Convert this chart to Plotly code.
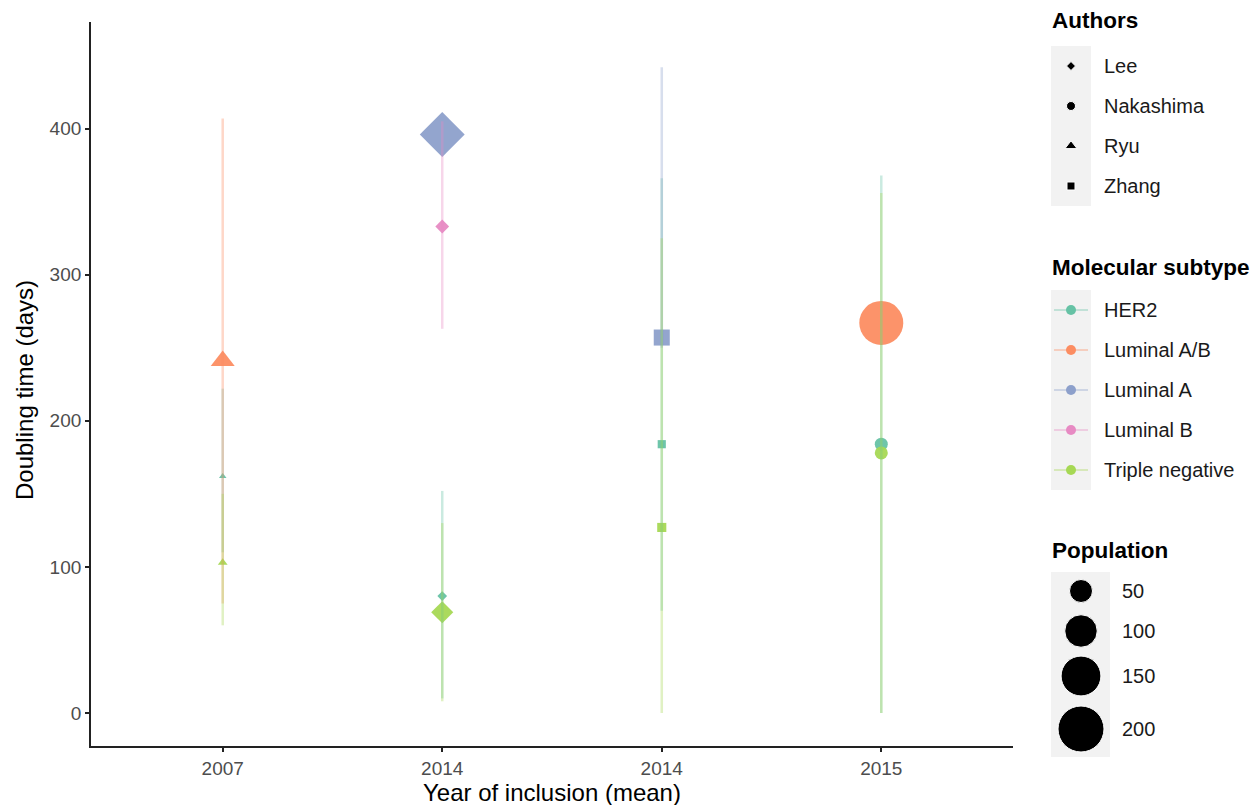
import math
import plotly.graph_objects as go

# ---------------- data ----------------
study_order = ["Ryu", "Lee", "Zhang", "Nakashima"]          # order along x axis
year_labels = ["2007", "2014", "2014", "2015"]              # x tick labels
authors_legend = ["Lee", "Nakashima", "Ryu", "Zhang"]
subtypes = ["HER2", "Luminal A/B", "Luminal A", "Luminal B", "Triple negative"]

author = ["Ryu", "Ryu", "Ryu",
          "Lee", "Lee", "Lee", "Lee",
          "Zhang", "Zhang", "Zhang",
          "Nakashima", "Nakashima", "Nakashima"]
subtype = ["Luminal A/B", "HER2", "Triple negative",
           "Luminal A", "Luminal B", "HER2", "Triple negative",
           "Luminal A", "HER2", "Triple negative",
           "Luminal A/B", "HER2", "Triple negative"]
doubling = [241, 162, 103, 396, 333, 80, 69, 257, 184, 127, 267, 184, 178]
ci_low = [75, 110, 60, 396, 263, 10, 8, 250, 70, 0, 267, 0, 0]
ci_high = [407, 222, 150, 396, 405, 152, 130, 442, 366, 325, 267, 368, 356]
population = [30, 3, 5, 190, 18, 9, 46, 31, 8, 10, 183, 16, 16]
pop_legend = [50, 100, 150, 200]
y_ticks = [0, 100, 200, 300, 400]

# ---------------- style ----------------
OFF = 0                      # body margin removed by post_script
W, H = 1255, 805
colors = {"HER2": "#66C2A5", "Luminal A/B": "#FC8D62", "Luminal A": "#8DA0CB",
          "Luminal B": "#E78AC3", "Triple negative": "#A6D854"}
symbols = {"Lee": "diamond", "Nakashima": "circle", "Ryu": "triangle-up", "Zhang": "square"}
shape_factor = {"diamond": 0.77, "circle": 1.0, "triangle-up": 1.166, "square": 0.886}
FONT = "Liberation Sans, Arial, sans-serif"
AXC = "#222222"
TICKC = "#4D4D4D"
LINE_ALPHA = 0.35
TICK_SIZE = 19
AXT_SIZE = 24
LEG_T_SIZE = 22.5
LEG_L_SIZE = 20


def rgba(hexc, a):
    h = hexc.lstrip("#")
    return "rgba(%d,%d,%d,%.2f)" % (int(h[0:2], 16), int(h[2:4], 16), int(h[4:6], 16), a)


def diam(p):
    return 46.0 * math.sqrt(p / 200.0)


# plot-area pixel box (screen coordinates)
PL, PR, PT, PB = 91, 1013, 22, 746


def px(x):
    return (x - OFF) / W


def py(y):
    return 1 - (y - OFF) / H


fig = go.Figure()

# markers (drawn first, error lines on top as in reference)
for st in subtypes:
    idx = [i for i in range(len(author)) if subtype[i] == st]
    if not idx:
        continue
    xs = [study_order.index(author[i]) + 1 for i in idx]
    ys = [doubling[i] for i in idx]
    syms = [symbols[author[i]] for i in idx]
    sizes = [diam(population[i]) * shape_factor[symbols[author[i]]] for i in idx]
    fig.add_trace(go.Scatter(
        x=xs, y=ys, mode="markers", showlegend=False, hoverinfo="skip",
        marker=dict(symbol=syms, size=sizes, color=colors[st], opacity=0.95,
                    line=dict(width=0)),
        xaxis="x", yaxis="y"))

# confidence interval lines
for st in subtypes:
    lx, ly = [], []
    for i in range(len(author)):
        if subtype[i] != st or ci_low[i] == ci_high[i]:
            continue
        xi = study_order.index(author[i]) + 1
        lx += [xi, xi, None]
        ly += [ci_low[i], ci_high[i], None]
    if lx:
        fig.add_trace(go.Scatter(
            x=lx, y=ly, mode="lines", showlegend=False, hoverinfo="skip",
            line=dict(color=rgba(colors[st], LINE_ALPHA), width=2.5),
            xaxis="x", yaxis="y"))

# ---------------- manual legends (pixel overlay axes) ----------------
shapes = []
annotations = []


def title(text, ycen):
    annotations.append(dict(x=px(1050), y=py(ycen), xref="paper", yref="paper",
                            text="<b>%s</b>" % text, showarrow=False, xanchor="left",
                            yanchor="middle", font=dict(family=FONT, size=LEG_T_SIZE, color="black")))


def label(text, x, ycen):
    annotations.append(dict(x=px(x), y=py(ycen), xref="paper", yref="paper",
                            text=text, showarrow=False, xanchor="left", yanchor="middle",
                            font=dict(family=FONT, size=LEG_L_SIZE, color="#1A1A1A")))


def keybox(x0, x1, y0, y1):
    shapes.append(dict(type="rect", xref="paper", yref="paper",
                       x0=px(x0), x1=px(x1), y0=py(y1), y1=py(y0),
                       fillcolor="#F2F2F2", line=dict(width=0), layer="below"))


# Authors
title("Authors", 20)
keybox(1051, 1091, 46, 206)
a_y = [66 + 40 * k for k in range(len(authors_legend))]
fig.add_trace(go.Scatter(
    x=[1071 - OFF] * len(authors_legend), y=[v - OFF for v in a_y], mode="markers",
    showlegend=False, hoverinfo="skip",
    marker=dict(symbol=[symbols[a] for a in authors_legend],
                size=[9 * shape_factor[symbols[a]] for a in authors_legend],
                color="black", opacity=1),
    xaxis="x2", yaxis="y2"))
for a, yy in zip(authors_legend, a_y):
    label(a, 1102, yy)

# Molecular subtype
title("Molecular subtype", 268)
keybox(1051, 1091, 290, 490)
s_y = [310 + 40 * k for k in range(len(subtypes))]
for st, yy in zip(subtypes, s_y):
    fig.add_trace(go.Scatter(
        x=[1054 - OFF, 1088 - OFF], y=[yy - OFF, yy - OFF], mode="lines",
        showlegend=False, hoverinfo="skip",
        line=dict(color=rgba(colors[st], LINE_ALPHA), width=2),
        xaxis="x2", yaxis="y2"))
    fig.add_trace(go.Scatter(
        x=[1071 - OFF], y=[yy - OFF], mode="markers", showlegend=False, hoverinfo="skip",
        marker=dict(symbol="circle", size=10, color=colors[st], opacity=1),
        xaxis="x2", yaxis="y2"))
    label(st, 1102, yy)

# Population
title("Population", 550)
keybox(1051, 1110, 572, 757)
p_y = [591, 631, 676, 729]
fig.add_trace(go.Scatter(
    x=[1081 - OFF] * len(pop_legend), y=[v - OFF for v in p_y], mode="markers",
    showlegend=False, hoverinfo="skip",
    marker=dict(symbol="circle", size=[diam(p) for p in pop_legend], color="black", opacity=1),
    xaxis="x2", yaxis="y2"))
for p, yy in zip(pop_legend, p_y):
    label(str(p), 1120, yy)

# axis titles
annotations.append(dict(x=px(24), y=py(390), xref="paper", yref="paper",
                        text="Doubling time (days)", textangle=-90, showarrow=False,
                        xanchor="center", yanchor="middle",
                        font=dict(family=FONT, size=AXT_SIZE, color="black")))
annotations.append(dict(x=px((PL + PR) / 2), y=py(792), xref="paper", yref="paper",
                        text="Year of inclusion (mean)", showarrow=False,
                        xanchor="center", yanchor="middle",
                        font=dict(family=FONT, size=AXT_SIZE, color="black")))

axis_common = dict(showgrid=False, zeroline=False, showline=True, linecolor=AXC,
                   linewidth=1.8, ticks="outside", ticklen=4, tickwidth=1.5, tickcolor=AXC,
                   tickfont=dict(family=FONT, size=TICK_SIZE, color=TICKC))

fig.update_layout(
    width=W, height=H, autosize=False,
    margin=dict(l=0, r=0, t=0, b=0, pad=0),
    paper_bgcolor="white", plot_bgcolor="rgba(0,0,0,0)",
    showlegend=False,
    xaxis=dict(domain=[px(PL), px(PR)], range=[0.4, 4.6], tickvals=[1, 2, 3, 4],
               ticktext=year_labels, anchor="y", automargin=False, **axis_common),
    yaxis=dict(domain=[py(PB), py(PT)], range=[-22.6, 473], tickvals=y_ticks,
               anchor="x", automargin=False, **axis_common),
    xaxis2=dict(domain=[0, 1], range=[0, W], visible=False, anchor="y2", fixedrange=True),
    yaxis2=dict(domain=[0, 1], range=[H, 0], visible=False, anchor="x2", fixedrange=True),
    shapes=shapes,
    annotations=annotations,
    font=dict(family=FONT),
)

fig.write_html("out.html",
               config={"displayModeBar": False},
               post_script="document.body.style.margin='0';document.body.style.overflow='hidden';")
